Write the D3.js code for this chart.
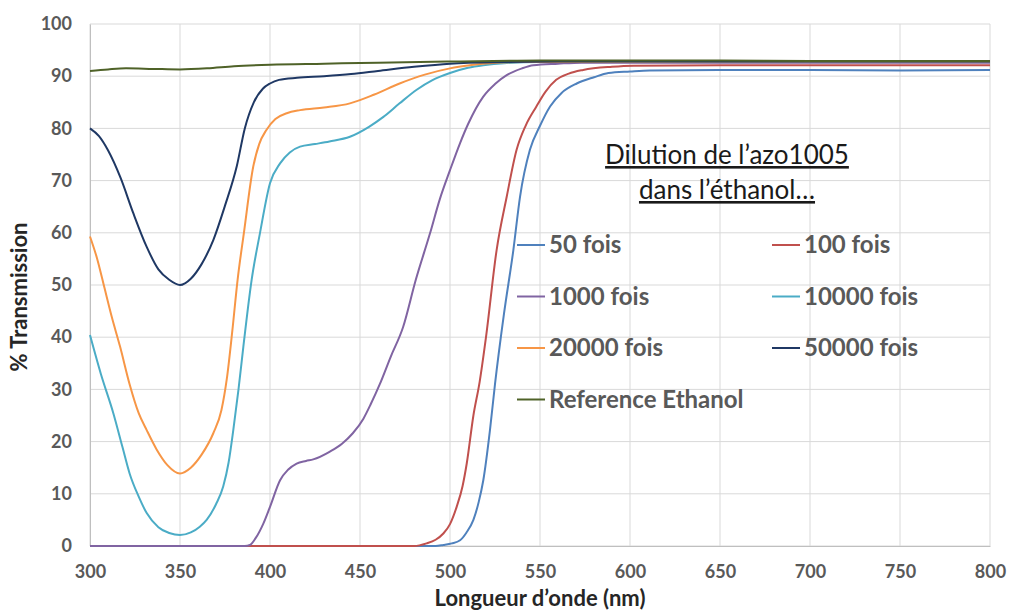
<!DOCTYPE html>
<html><head><meta charset="utf-8">
<script src="https://cdn.jsdelivr.net/npm/d3@7"></script>
<style>
html,body{margin:0;padding:0;background:#fff;}
svg{display:block;font-family:Lato,"Open Sans",sans-serif;}
</style></head>
<body><svg id="chart" width="1009" height="610"></svg>
<script>
// ---- data (wavelength nm, % transmission) ----
const seriesNames = ["50 fois","100 fois","1000 fois","10000 fois","20000 fois","50000 fois","Reference Ethanol"];
const seriesColors = ["#4f81bd","#c0504d","#8064a2","#4bacc6","#f79646","#1f3864","#4f6228"];

const wl50  = [300,492,496.3,501,505.6,509,513,516,518.5,522.2,525,530,535.2,538.9,544.4,550,555.6,562,570.4,580,588,600,611,650,700,750,800];
const t50   = [0,0,0.2,0.5,1.1,2.5,5,8.5,12.6,22.2,31,44.5,56.7,66.9,75.9,80.5,84.2,86.8,88.6,89.8,90.6,90.9,91.1,91.2,91.2,91.1,91.2];

const wl100 = [300,480,487,492,496.3,500,503.7,507,509.3,513,516.5,520,525.9,531.5,537,542,548,553,559,566,574,590,602,650,700,800];
const t100  = [0,0,0.5,1.2,2.4,4.2,7.5,11.5,15.8,25,31.5,40,56.7,66.9,75.9,80.5,84.2,87,89.3,90.5,91.2,91.8,92,92.1,92.1,92.1];

const wl1000 = [300,386,388.9,392,396.3,400,405.6,410,414.8,420,424,433.3,440,446,451.9,456,461,467,474,481,488.9,494.4,500,505.6,510,518.5,525,531.5,540,546.3,560,573,650,800];
const t1000  = [0,0,0.2,1.5,4.3,7.5,12.6,14.6,15.8,16.3,16.6,18.1,19.6,21.6,24.4,27.2,31,36.2,42,51,59.9,66.5,72,77.2,80.8,86.1,88.5,90.2,91.5,92.1,92.4,92.6,92.6,92.6];

const wl10000 = [300,306,313,318,322,327,331.5,338,344,350,356,361,364.8,370,374,377,379.6,382.5,385.2,389.8,394.4,400,405.6,411,416.7,425,433,444.4,455,463,472,481.5,490,500,510,518.5,530,550,650,800];
const t10000  = [40.4,33,25.4,19,13.9,9.5,6.3,3.6,2.5,2.1,2.6,3.7,5,8,11.4,16,22.2,30,38.2,51,59.9,69.5,73.3,75.4,76.5,77,77.5,78.4,80.3,82.2,84.8,87.4,89.2,90.6,91.6,92.1,92.5,92.7,92.8,92.8];

const wl20000 = [300,304,308,312,316.7,322,327,331.5,337,343,350,356,362,368.5,373,376,379,382,385.5,390.7,394,398,403,409.3,416.7,430,444.4,458,472,486,500,511,522,540,650,800];
const t20000  = [59.3,55,49.5,44,38.2,31,25.5,22.2,18.5,15.5,13.9,15,17.5,21.6,26,32,41,51,60,72.7,77,79.7,81.8,82.9,83.5,84,84.8,86.5,88.6,90.3,91.5,92.1,92.5,92.7,92.8,92.8];

const wl50000 = [300,305,310,317,324,331.5,338,344,350,356,362,368.5,375,381.5,386,391,396,400,405,415,430,445,460,480,500,530,560,650,800];
const t50000  = [80,78.5,75.8,70.5,63.8,57.3,53,51,50,51.2,54,58.6,65.2,72.7,80,85,87.6,88.6,89.3,89.7,90,90.4,91,91.8,92.4,92.7,92.8,92.8,92.8];

const wlRef = [300,310,320,335,350,365,380,400,430,460,500,550,600,650,700,750,800];
const tRef  = [91.0,91.3,91.5,91.4,91.3,91.5,91.9,92.2,92.4,92.6,92.8,93.0,93.0,93.0,92.9,92.9,92.9];

const xTicks = [300,350,400,450,500,550,600,650,700,750,800];
const yTicks = [0,10,20,30,40,50,60,70,80,90,100];

const allWl = [wl50,wl100,wl1000,wl10000,wl20000,wl50000,wlRef];
const allT  = [t50,t100,t1000,t10000,t20000,t50000,tRef];

// ---- layout ----
const svg = d3.select("#chart");
const L = 90, R = 990, T = 24, B = 546;
const x = d3.scaleLinear().domain([300,800]).range([L,R]);
const y = d3.scaleLinear().domain([0,100]).range([B,T]);

// gridlines
svg.append("g").selectAll("line").data(yTicks).join("line")
  .attr("x1",L).attr("x2",R).attr("y1",d=>y(d)).attr("y2",d=>y(d))
  .attr("stroke","#d9d9d9").attr("stroke-width",1);
svg.append("g").selectAll("line").data(xTicks).join("line")
  .attr("y1",T).attr("y2",B).attr("x1",d=>x(d)).attr("x2",d=>x(d))
  .attr("stroke","#d9d9d9").attr("stroke-width",1);

// axes
const xAxis = svg.append("g").attr("transform",`translate(0,${B})`)
  .call(d3.axisBottom(x).tickValues(xTicks).tickSize(0).tickPadding(19));
xAxis.select(".domain").attr("stroke","#bfbfbf");
xAxis.selectAll("text").attr("fill","#595959").attr("font-size","18px").attr("font-weight","700").attr("font-family","Lato,sans-serif");
const yAxis = svg.append("g").attr("transform",`translate(${L},0)`)
  .call(d3.axisLeft(y).tickValues(yTicks).tickSize(0).tickPadding(18));
yAxis.select(".domain").attr("stroke","#bfbfbf");
yAxis.selectAll("text").attr("fill","#595959").attr("font-size","18px").attr("font-weight","700").attr("font-family","Lato,sans-serif");

// lines
const line = d3.line().x(d=>x(d[0])).y(d=>y(d[1])).curve(d3.curveMonotoneX);
allWl.forEach((wl,i)=>{
  const pts = wl.map((w,j)=>[w,allT[i][j]]);
  svg.append("path").datum(pts).attr("d",line)
    .attr("fill","none").attr("stroke",seriesColors[i]).attr("stroke-width",2)
    .attr("stroke-linejoin","round");
});

// axis titles
svg.append("text").attr("x",540).attr("y",606).attr("text-anchor","middle")
  .attr("font-size","22px").attr("font-weight","700").attr("fill","#262626")
  .attr("font-family","Lato,sans-serif").text("Longueur d’onde (nm)");
svg.append("text").attr("transform","translate(27,297) rotate(-90)").attr("text-anchor","middle")
  .attr("font-size","22px").attr("font-weight","700").attr("fill","#262626")
  .attr("font-family","Lato,sans-serif").text("% Transmission");

// title in plot
const titleLines = ["Dilution de l’azo1005","dans l’éthanol…"];
titleLines.forEach((t,i)=>{
  svg.append("text").attr("x",727).attr("y",164+i*35).attr("text-anchor","middle")
    .attr("font-size","26px").attr("fill","#1a1a1a").attr("text-decoration","underline")
    .attr("font-family","Lato,sans-serif").text(t);
});

// legend
const legX = [517,772], legY0 = 245, legDy = 51.5;
seriesNames.forEach((n,i)=>{
  const cx = legX[i%2], cy = legY0 + Math.floor(i/2)*legDy;
  svg.append("line").attr("x1",cx).attr("x2",cx+28).attr("y1",cy).attr("y2",cy)
    .attr("stroke",seriesColors[i]).attr("stroke-width",2);
  svg.append("text").attr("x",cx+32).attr("y",cy).attr("dy","0.35em")
    .attr("font-size","24px").attr("font-weight","700").attr("fill","#595959")
    .attr("font-family","Lato,sans-serif").text(n);
});
</script></body></html>
